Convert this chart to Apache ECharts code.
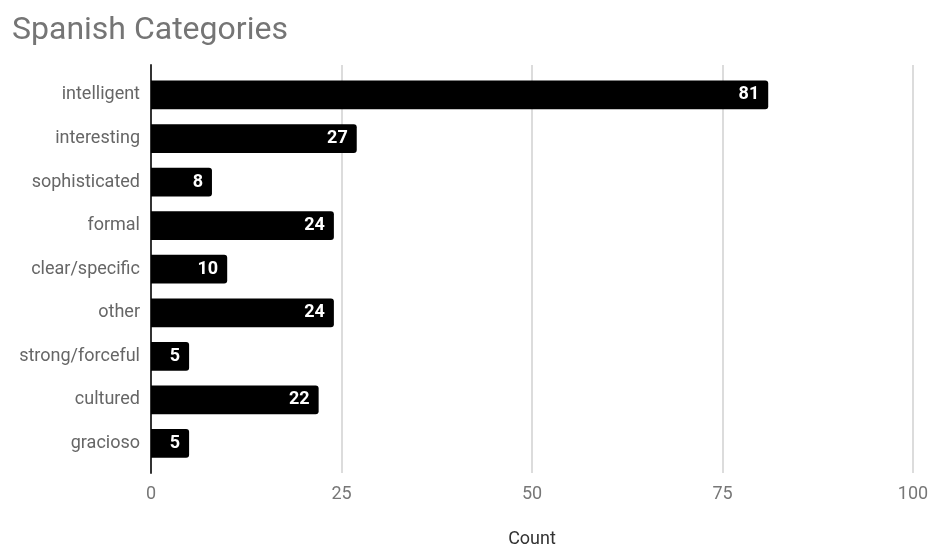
<!DOCTYPE html>
<html>
<head>
<meta charset="utf-8">
<script src="https://cdn.jsdelivr.net/npm/echarts@6/dist/echarts.min.js"></script>
<style>
  html, body { margin: 0; padding: 0; background: #fff; }
  #chart { width: 929px; height: 548px; }
</style>
</head>
<body>
<div id="chart"></div>
<script>
const categories = ['intelligent', 'interesting', 'sophisticated', 'formal', 'clear/specific', 'other', 'strong/forceful', 'cultured', 'gracioso'];
const counts = [81, 27, 8, 24, 10, 24, 5, 22, 5];
const xTicks = [0, 25, 50, 75, 100];

const chart = echarts.init(document.getElementById('chart'));
const FONT = 'Roboto, "Open Sans", sans-serif';

chart.setOption({
  animation: false,
  title: {
    text: 'Spanish Categories',
    left: 7, top: 10,
    textStyle: { fontFamily: FONT, fontSize: 32, fontWeight: 'normal', color: '#757575' }
  },
  grid: [
    // frame: gridlines, tick labels and the baseline
    { left: 151, right: 16, top: 65, height: 408, outerBoundsMode: 'none', containLabel: false },
    // bars and category labels
    { left: 151, right: 16, top: 73.2, height: 392, outerBoundsMode: 'none', containLabel: false }
  ],
  xAxis: [
    {
      gridIndex: 0, type: 'value', min: xTicks[0], max: xTicks[xTicks.length - 1], interval: 25,
      name: 'Count', nameLocation: 'middle', nameGap: 57,
      nameTextStyle: { fontFamily: FONT, fontSize: 18, color: '#333' },
      axisLine: { show: false }, axisTick: { show: false },
      axisLabel: { fontFamily: FONT, fontSize: 18, color: '#777', margin: 12 },
      splitLine: { lineStyle: { color: '#dcdcdc', width: 2 } }
    },
    {
      gridIndex: 1, type: 'value', min: xTicks[0], max: xTicks[xTicks.length - 1],
      show: false, splitLine: { show: false }
    }
  ],
  yAxis: [
    {
      gridIndex: 0, type: 'value', min: 0, max: 1,
      axisLine: { show: true, lineStyle: { color: '#333', width: 2 } },
      axisTick: { show: false }, axisLabel: { show: false }, splitLine: { show: false }
    },
    {
      gridIndex: 1, type: 'category', data: categories, inverse: true,
      axisLine: { show: false }, axisTick: { show: false },
      axisLabel: { fontFamily: FONT, fontSize: 18, color: '#666', margin: 11, padding: [3, 0, 0, 0] }
    }
  ],
  series: [{
    type: 'bar', xAxisIndex: 1, yAxisIndex: 1,
    data: counts,
    barWidth: '66%',
    itemStyle: { color: '#000', borderRadius: [0, 3, 3, 0] },
    label: {
      show: true, position: 'insideRight', distance: 9,
      fontFamily: FONT, fontSize: 18, fontWeight: 'bold', color: '#fff'
    }
  }]
});
</script>
</body>
</html>
